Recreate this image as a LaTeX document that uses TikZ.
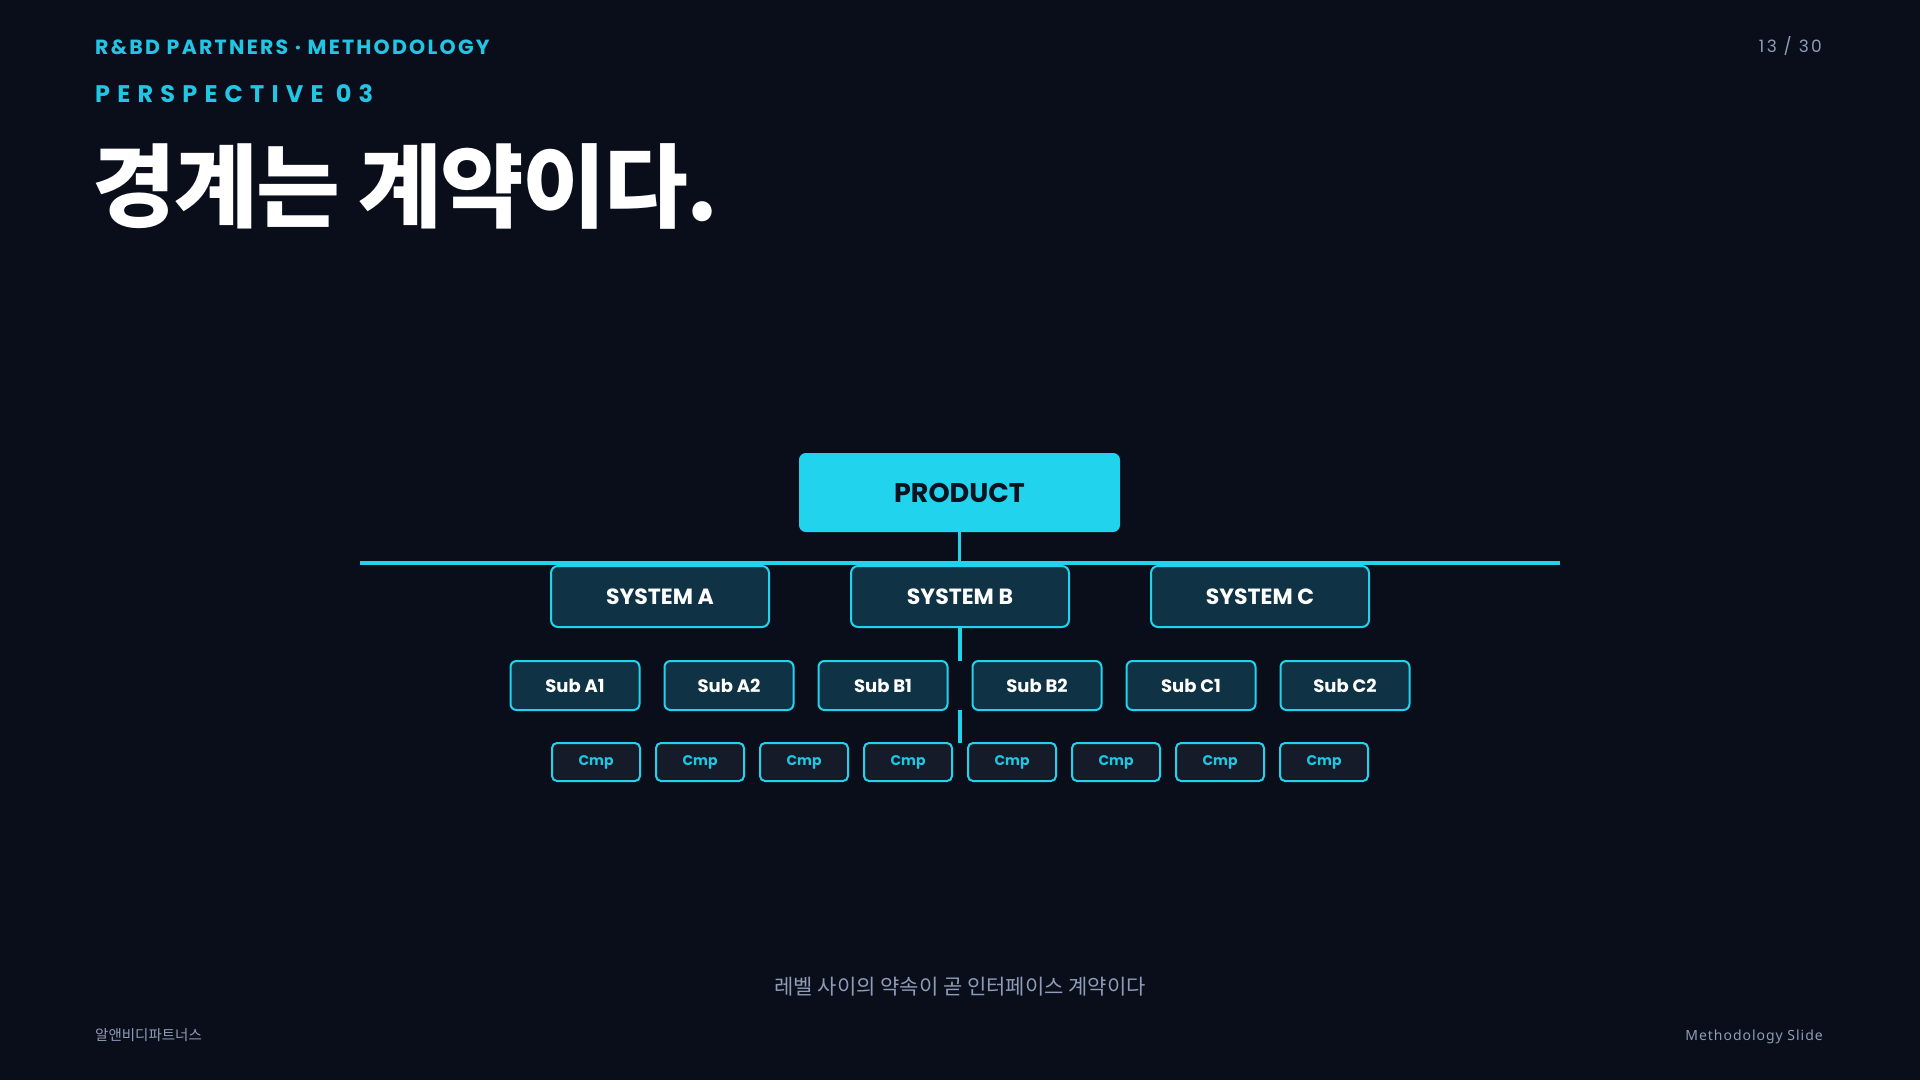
\documentclass[tikz,border=0pt]{standalone}
\usepackage{fontspec}
\setmainfont{Poppins}
\newfontfamily\krfont{Noto Sans CJK KR}
\newfontfamily\krblack{Noto Sans CJK KR}[UprightFont=* Black]
\newfontfamily\notosans{Noto Sans}
\usetikzlibrary{positioning}

\definecolor{bgnavy}{HTML}{0A0E1A}
\definecolor{cyanline}{HTML}{22D3EE}
\definecolor{cyantext}{HTML}{22C5E3}
\definecolor{tealfill}{HTML}{0F3344}
\definecolor{cmpfill}{HTML}{151B29}
\definecolor{darkink}{HTML}{0B1220}
\definecolor{muted}{HTML}{8E9CB8}

\begin{document}
\begin{tikzpicture}[x=1pt,y=-1pt]

\tikzset{sysbox/.style={draw=cyanline,fill=tealfill,line width=2pt,rounded corners=7pt,inner sep=0pt,outer sep=0pt,minimum width=218pt,minimum height=61pt,font=\fontsize{22}{26}\selectfont\bfseries,text=white},
subbox/.style={sysbox,rounded corners=6pt,minimum width=129pt,minimum height=49pt,font=\fontsize{18}{22}\selectfont\bfseries},
cmpbox/.style={sysbox,fill=cmpfill,rounded corners=5pt,minimum width=88pt,minimum height=38pt,font=\fontsize{14}{17}\selectfont\bfseries,text=cyantext},
link/.style={draw=cyanline,line width=3.5pt}}

% Background
\useasboundingbox (0,0) rectangle (1920,1080);
\fill[bgnavy] (0,0) rectangle (1920,1080);

% Header texts
\node[anchor=base west,inner sep=0pt,text=cyantext] (brand) at (95,54) {\fontsize{20.5}{24}\selectfont\bfseries\addfontfeatures{LetterSpace=11}R\&BD PARTNERS · METHODOLOGY};
\node[anchor=base west,inner sep=0pt,text=cyantext] (persp) at (95,102) {\fontsize{24}{28}\selectfont\bfseries\addfontfeatures{LetterSpace=30}PERSPECTIVE 03};
\node[anchor=base west,inner sep=0pt,text=white] (title) at (92,220) {\krblack\fontsize{91}{95}\selectfont\addfontfeatures{LetterSpace=-2}경계는 계약이다.};
\node[anchor=base east,inner sep=0pt,text=muted] (pagenum) at (1822,52) {\fontsize{17}{20}\selectfont\addfontfeatures{LetterSpace=14}13 / 30};

% Product and systems
\node (product) [sysbox,fill=cyanline,draw=cyanline,rounded corners=6pt,minimum width=319pt,minimum height=77pt,font=\fontsize{27}{30}\selectfont\bfseries,text=darkink] at (959.5,492.5) {PRODUCT};
\coordinate (barL) at (360,563);
\coordinate (barR) at (1560,563);
\node (sysA) [sysbox] at (660,596.5) {SYSTEM A};
\node (sysB) [sysbox] at (960,596.5) {SYSTEM B};
\node (sysC) [sysbox] at (1260,596.5) {SYSTEM C};

% Sub nodes
\node (subA1) [subbox] at (575,685.5) {Sub A1};
\node (subA2) [subbox,right=25pt of subA1] {Sub A2};
\node (subB1) [subbox,right=25pt of subA2] {Sub B1};
\node (subB2) [subbox,right=25pt of subB1] {Sub B2};
\node (subC1) [subbox,right=25pt of subB2] {Sub C1};
\node (subC2) [subbox,right=25pt of subC1] {Sub C2};

% Component nodes
\foreach \i in {0,...,7} \node (cmp\i) [cmpbox] at ({596+104*\i},762) {Cmp};

% Links
\draw[link] (barL) -- (barR);
\draw[link] (product.south) -- (product.south |- barL);
\draw[link] (sysB.south) -- (sysB.south |- subB1.north);
\draw[link] (sysB.south |- subB1.south) -- (sysB.south |- cmp3.north);

% Footer texts
\node[anchor=base,inner sep=0pt,text=muted] (caption) at (960,994) {\krfont\fontsize{21}{25}\selectfont 레벨 사이의 약속이 곧 인터페이스 계약이다};
\node[anchor=base west,inner sep=0pt,text=muted] (company) at (95,1040) {\krfont\fontsize{14.5}{17}\selectfont 알앤비디파트너스};
\node[anchor=base east,inner sep=0pt,text=muted] (slidetag) at (1823,1040) {\notosans\fontsize{14}{18}\selectfont\addfontfeatures{LetterSpace=7}Methodology Slide};

\end{tikzpicture}
\end{document}
